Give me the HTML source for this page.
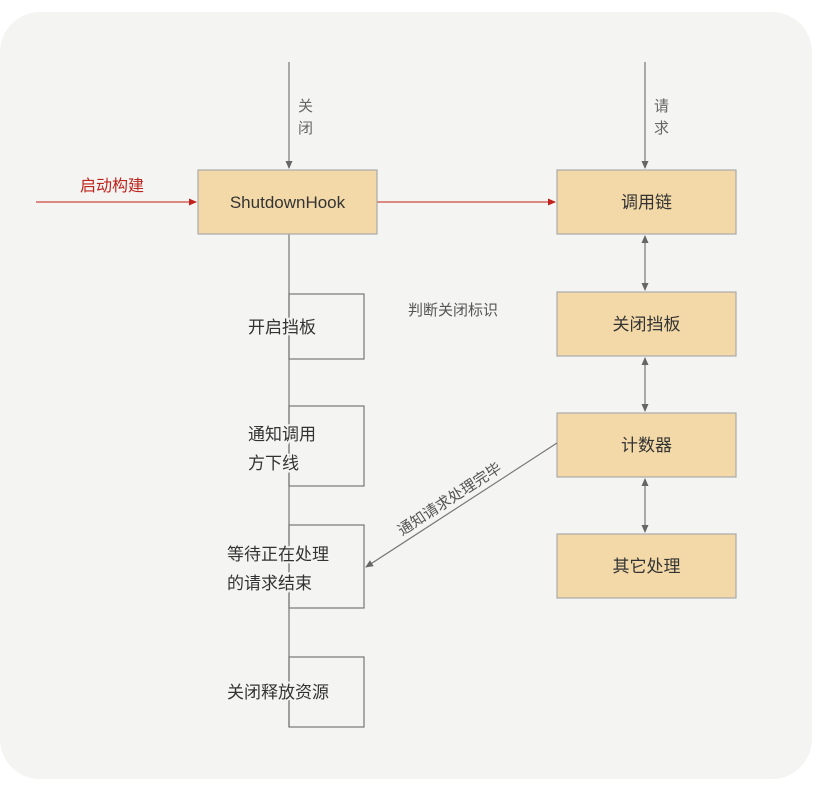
<!DOCTYPE html>
<html><head><meta charset="utf-8"><style>
body{margin:0;background:#fff;width:837px;height:800px;overflow:hidden}
text{font-family:"Liberation Sans","Noto Sans CJK SC",sans-serif}
</style></head><body>
<svg width="837" height="800" viewBox="0 0 837 800" xmlns="http://www.w3.org/2000/svg">
<defs>
<marker id="ag" markerWidth="8" markerHeight="8" refX="7" refY="4" orient="auto-start-reverse" markerUnits="userSpaceOnUse"><path d="M0,0.5 L8,4 L0,7.5Z" fill="#666"/></marker>
<marker id="ar" markerWidth="8" markerHeight="8" refX="7" refY="4" orient="auto" markerUnits="userSpaceOnUse"><path d="M0,0.5 L8,4 L0,7.5Z" fill="#c0231c"/></marker>
</defs>
<rect x="0" y="12" width="812" height="767" rx="40" fill="#f4f4f2"/>
<!-- left vertical line -->
<line x1="289" y1="62" x2="289" y2="168" stroke="#777" stroke-width="1.2" marker-end="url(#ag)"/>
<line x1="289" y1="234" x2="289" y2="727" stroke="#777" stroke-width="1.2"/>
<text x="298" y="111" font-size="15" fill="#666">关</text>
<text x="298" y="133" font-size="15" fill="#666">闭</text>
<!-- right top line -->
<line x1="645" y1="62" x2="645" y2="168" stroke="#777" stroke-width="1.2" marker-end="url(#ag)"/>
<text x="654" y="111" font-size="15" fill="#666">请</text>
<text x="654" y="133" font-size="15" fill="#666">求</text>
<!-- red arrows -->
<line x1="36" y1="202" x2="196" y2="202" stroke="#d0473f" stroke-width="1.2" marker-end="url(#ar)"/>
<text x="80" y="191" font-size="16" fill="#c0231c">启动构建</text>
<line x1="377" y1="202" x2="555" y2="202" stroke="#d0473f" stroke-width="1.2" marker-end="url(#ar)"/>
<!-- ShutdownHook -->
<rect x="198" y="170" width="179" height="64" fill="#f3d9a8" stroke="#aaa" stroke-width="1.2"/>
<text x="287.5" y="208" font-size="17" fill="#333" text-anchor="middle">ShutdownHook</text>
<!-- right boxes -->
<g fill="#f3d9a8" stroke="#aaa" stroke-width="1.2">
<rect x="557" y="170" width="179" height="64"/>
<rect x="557" y="292" width="179" height="64"/>
<rect x="557" y="413" width="179" height="64"/>
<rect x="557" y="534" width="179" height="64"/>
</g>
<g font-size="17" fill="#333" text-anchor="middle">
<text x="646.5" y="208">调用链</text>
<text x="646.5" y="330">关闭挡板</text>
<text x="646.5" y="451">计数器</text>
<text x="646.5" y="572">其它处理</text>
</g>
<g stroke="#777" stroke-width="1.2" marker-start="url(#ag)" marker-end="url(#ag)">
<line x1="645" y1="236" x2="645" y2="290"/>
<line x1="645" y1="358" x2="645" y2="411"/>
<line x1="645" y1="479" x2="645" y2="532"/>
</g>
<text x="408" y="315" font-size="15" fill="#555">判断关闭标识</text>
<!-- left step boxes -->
<g fill="none" stroke="#777" stroke-width="1.2">
<rect x="289" y="294" width="75" height="65"/>
<rect x="289" y="406" width="75" height="80"/>
<rect x="289" y="525" width="75" height="83"/>
<rect x="289" y="657" width="75" height="70"/>
</g>
<g font-size="17" fill="#333" stroke="#f4f4f2" stroke-width="4" paint-order="stroke">
<text x="248" y="333">开启挡板</text>
<text x="248" y="440">通知调用</text>
<text x="248" y="469">方下线</text>
<text x="227" y="560">等待正在处理</text>
<text x="227" y="589">的请求结束</text>
<text x="227" y="698">关闭释放资源</text>
</g>
<!-- diagonal -->
<line x1="557" y1="443" x2="366" y2="567" stroke="#777" stroke-width="1.2" marker-end="url(#ag)"/>
<text x="0" y="0" font-size="15" fill="#555" transform="translate(402,536) rotate(-33)">通知请求处理完毕</text>
</svg>
</body></html>
